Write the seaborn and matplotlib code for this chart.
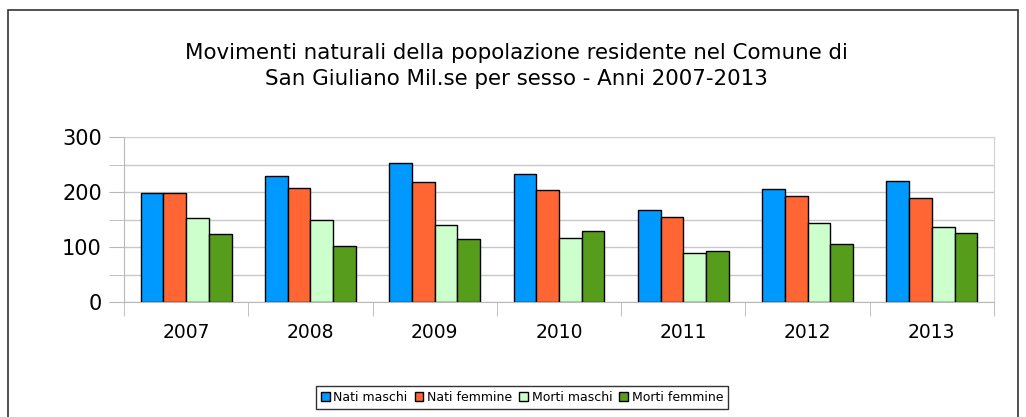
import matplotlib
matplotlib.use("Agg")
import matplotlib.pyplot as plt
import numpy as np
import pandas as pd
import seaborn as sns
from matplotlib.patches import Rectangle

# Dati
anni = ["2007", "2008", "2009", "2010", "2011", "2012", "2013"]
nati_maschi = [199, 230, 252, 233, 167, 205, 220]
nati_femmine = [199, 208, 218, 204, 154, 192, 190]
morti_maschi = [152, 149, 140, 117, 90, 143, 136]
morti_femmine = [123, 101, 115, 129, 93, 106, 125]
serie = ["Nati maschi", "Nati femmine", "Morti maschi", "Morti femmine"]
colori = ["#0099ff", "#ff6633", "#ccffcc", "#579d1c"]

df = pd.DataFrame({
    "anno": anni * 4,
    "valore": nati_maschi + nati_femmine + morti_maschi + morti_femmine,
    "serie": [s for s in serie for _ in anni],
})

sns.set_style("white")
plt.rcParams["font.family"] = ["DejaVu Sans"]
plt.rcParams["text.color"] = "black"
plt.rcParams["xtick.color"] = "black"
plt.rcParams["ytick.color"] = "black"

fig = plt.figure(figsize=(10.26, 4.17), dpi=100)
ax = fig.add_axes([124 / 1026, 1 - 302 / 417, 870 / 1026, 165 / 417])

sns.barplot(
    data=df, x="anno", y="valore", hue="serie", palette=colori,
    width=0.73, edgecolor="black", linewidth=1, saturation=1, ax=ax,
)

ax.set_ylim(0, 300)
ax.set_xlim(-0.5, len(anni) - 0.5)
ax.set_yticks([0, 100, 200, 300])
ax.set_yticks([50, 150, 250], minor=True)
ax.yaxis.grid(True, which="both", color="#c8c8c8", linewidth=1)
ax.set_axisbelow(True)
ax.set_xlabel("")
ax.set_ylabel("")

for s in ["top", "right"]:
    ax.spines[s].set_color("#d0d0d0")
for s in ["left", "bottom"]:
    ax.spines[s].set_color("#b8b8b8")

ax.tick_params(axis="y", which="both", length=11, color="#b8b8b8",
               labelcolor="black", labelsize=15, pad=5, left=True)
ax.set_xticks(np.arange(len(anni)))
ax.set_xticklabels(anni)
ax.tick_params(axis="x", which="major", length=0, labelsize=13.5,
               labelcolor="black", pad=15)
ax.set_xticks(np.arange(-0.5, len(anni)), minor=True)
ax.tick_params(axis="x", which="minor", length=10, color="#b8b8b8", bottom=True)

leg = ax.legend(
    loc="lower center", bbox_to_anchor=(522 / 1026, 8 / 417),
    bbox_transform=fig.transFigure, ncol=4, fontsize=9.0,
    frameon=True, fancybox=False, edgecolor="black",
    handlelength=0.7, handleheight=0.7, handletextpad=0.3,
    columnspacing=0.55, borderpad=0.4, borderaxespad=0,
)
leg.get_frame().set_linewidth(1)
for t in leg.get_texts():
    t.set_color("black")

fig.text(516 / 1026, 1 - 66 / 417,
         "Movimenti naturali della popolazione residente nel Comune di\n"
         "San Giuliano Mil.se per sesso - Anni 2007-2013",
         ha="center", va="center", fontsize=15.4, linespacing=1.4,
         color="black")

fig.patches.append(Rectangle((8 / 1026, -0.01), 1010 / 1026, 1 - 10 / 417 + 0.01,
                             transform=fig.transFigure, fill=False,
                             edgecolor="#333333", linewidth=1.2))

fig.savefig("out.png", dpi=100)
